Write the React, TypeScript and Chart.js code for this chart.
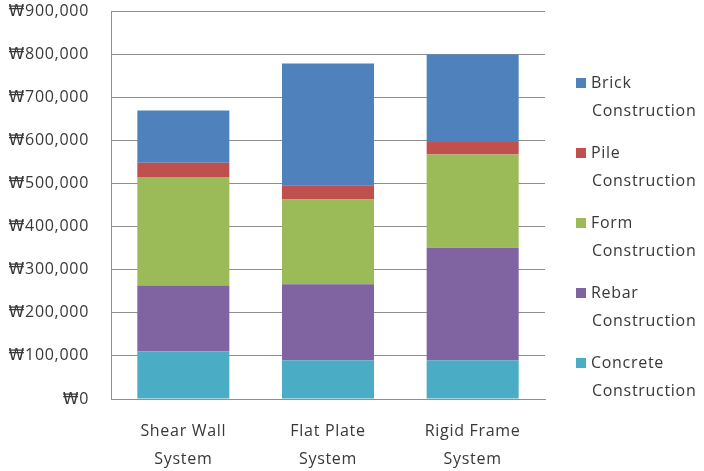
import React, { useEffect, useRef } from "react";
import { Chart, registerables } from "chart.js";

Chart.register(...registerables);

// Structural systems on the x axis
const systems = [
  ["Shear Wall", "System"],
  ["Flat Plate", "System"],
  ["Rigid Frame", "System"],
];

// Cost per item (KRW), bottom to top of each stack
const concrete = [110000, 90000, 90000];
const rebar = [153000, 176000, 261000];
const form = [252000, 197000, 216000];
const pile = [33000, 33000, 29000];
const brick = [121000, 282000, 203000];

const seriesNames = [
  "Concrete Construction",
  "Rebar Construction",
  "Form Construction",
  "Pile Construction",
  "Brick Construction",
];
const seriesColors = ["#4BACC6", "#8064A2", "#9BBB59", "#C0504D", "#4F81BD"];

const yMax = 900000;
const yStep = 100000;

const FONT = '"Open Sans", "DejaVu Sans", sans-serif';
const TEXT_COLOR = "#383838";
const SPACING = "0.7px";

// Slightly looser letter spacing for every text drawn on the canvas
const spacing = {
  id: "spacing",
  beforeUpdate(chart: any) {
    (chart.ctx as any).letterSpacing = SPACING;
  },
  beforeDraw(chart: any) {
    (chart.ctx as any).letterSpacing = SPACING;
  },
};

// Legend on the right, listed top-down in reverse stack order, each name on two lines
const sideLegend = {
  id: "sideLegend",
  afterDraw(chart: any) {
    const ctx = chart.ctx as CanvasRenderingContext2D;
    const sets = chart.data.datasets.slice().reverse();
    ctx.save();
    (ctx as any).letterSpacing = SPACING;
    ctx.font = `16px ${FONT}`;
    ctx.textBaseline = "middle";
    ctx.textAlign = "left";
    sets.forEach((ds: any, i: number) => {
      const y = 83 + i * 70;
      ctx.fillStyle = ds.backgroundColor;
      ctx.fillRect(576, y - 5, 10, 10);
      ctx.fillStyle = TEXT_COLOR;
      const words = String(ds.label).split(" ");
      ctx.fillText(words[0], 591, y);
      ctx.fillText(words.slice(1).join(" "), 592, y + 28);
    });
    ctx.restore();
  },
};

export default function App() {
  const canvasRef = useRef<HTMLCanvasElement | null>(null);

  useEffect(() => {
    const values = [concrete, rebar, form, pile, brick];
    const chart = new Chart(canvasRef.current as HTMLCanvasElement, {
      type: "bar",
      data: {
        labels: systems,
        datasets: values.map((v, i) => ({
          label: seriesNames[i],
          data: v,
          backgroundColor: seriesColors[i],
          borderWidth: 0,
          categoryPercentage: 1,
          barPercentage: 0.636,
        })),
      },
      options: {
        animation: false,
        responsive: false,
        layout: { padding: { top: 11, right: 159, left: 0, bottom: 0 } },
        plugins: {
          legend: { display: false },
          tooltip: { enabled: false },
        },
        scales: {
          x: {
            stacked: true,
            grid: { display: false, drawTicks: false },
            border: { color: "#8f8f8f", width: 1 },
            ticks: {
              color: TEXT_COLOR,
              font: { family: FONT, size: 16, lineHeight: 1.75 },
              padding: 18,
              maxRotation: 0,
            },
            afterFit(scale: any) {
              scale.height = 72;
            },
          },
          y: {
            stacked: true,
            min: 0,
            max: yMax,
            grid: { color: "#8f8f8f", drawTicks: false },
            border: { color: "#8f8f8f", width: 1 },
            ticks: {
              stepSize: yStep,
              color: TEXT_COLOR,
              padding: 22,
              font: { family: FONT, size: 16 },
              callback: (v: any) => "₩" + Number(v).toLocaleString("en-US"),
            },
            afterFit(scale: any) {
              scale.width = 111;
              scale.paddingTop = 0;
              scale.paddingBottom = 0;
            },
          },
        },
      },
      plugins: [spacing, sideLegend],
    });
    return () => chart.destroy();
  }, []);

  return (
    <div style={{ position: "fixed", left: 0, top: 0, width: 704, height: 471, background: "#fff" }}>
      <canvas ref={canvasRef} width={704} height={471} />
    </div>
  );
}
